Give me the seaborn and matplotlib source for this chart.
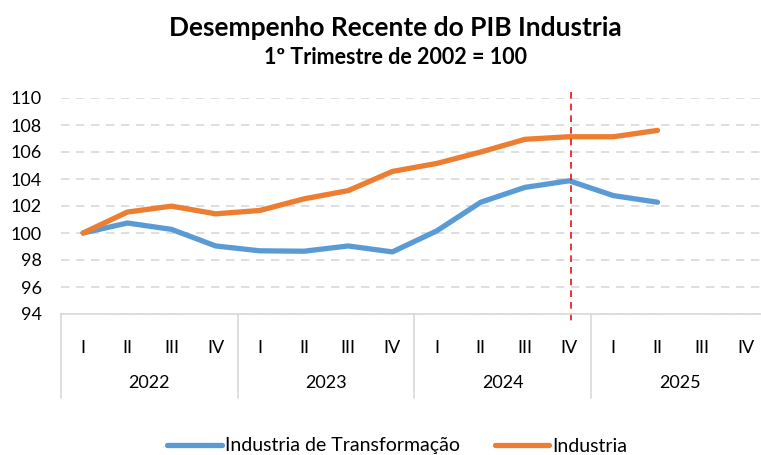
import numpy as np
import pandas as pd
import matplotlib
matplotlib.use("Agg")
import matplotlib.pyplot as plt
import matplotlib.transforms as mtransforms
from matplotlib.lines import Line2D
import seaborn as sns

# ---- data ----
quarters = ["I", "II", "III", "IV"] * 4
years = ["2022", "2023", "2024", "2025"]
transformacao = [100.0, 100.74, 100.27, 99.04, 98.68, 98.65, 99.04, 98.6,
                 100.15, 102.28, 103.38, 103.87, 102.77, 102.28, np.nan, np.nan]
industria = [100.0, 101.55, 101.99, 101.42, 101.67, 102.53, 103.14, 104.56,
             105.15, 106.0, 106.94, 107.13, 107.13, 107.6, np.nan, np.nan]
series_names = ["Industria de Transformação", "Industria"]
yticks = [94, 96, 98, 100, 102, 104, 106, 108, 110]
title = "Desempenho Recente do PIB Industria"
subtitle = "1º Trimestre de 2002 = 100"
marker_index = 11  # 2024 IV

sns.set_theme(style="white")
plt.rcParams['font.family'] = ['Lato', 'DejaVu Sans']
plt.rcParams['text.color'] = 'black'
plt.rcParams['xtick.color'] = 'black'
plt.rcParams['ytick.color'] = 'black'

n = len(quarters)
df = pd.DataFrame({
    "idx": list(range(n)) * 2,
    "valor": transformacao + industria,
    "serie": [series_names[0]] * n + [series_names[1]] * n,
})

fig = plt.figure(figsize=(7.61, 4.55), dpi=100)
W, H = 761, 455
left, right, top, bottom = 61, 768, 98, 314
ax = fig.add_axes([left / W, 1 - bottom / H, (right - left) / W, (bottom - top) / H])

palette = {series_names[0]: "#5B9BD5", series_names[1]: "#ED7D31"}
sns.lineplot(data=df, x="idx", y="valor", hue="serie", palette=palette,
             linewidth=3.8, ax=ax, legend=False)
for l in ax.get_lines():
    l.set_solid_capstyle("round")
    l.set_solid_joinstyle("round")

FS = 13
ax.set_xlim(-0.5, n - 0.5)
ax.set_ylim(94, 110)
ax.set_yticks(yticks)
ax.set_yticklabels([str(v) for v in yticks], fontsize=FS, color="black")
ax.tick_params(axis="y", length=0, pad=14)
ax.yaxis.grid(True, color="#d9d9d9", linestyle=(0, (5, 4)), linewidth=1.2)
ax.set_axisbelow(True)
for s in ["left", "right", "top"]:
    ax.spines[s].set_visible(False)
ax.spines["bottom"].set_color("#d9d9d9")
ax.spines["bottom"].set_linewidth(1.2)
ax.set_xlabel("")
ax.set_ylabel("")

# category axis: quarters
ax.set_xticks(range(n))
ax.set_xticklabels(quarters, fontsize=FS, color="black")
ax.tick_params(axis="x", length=0, pad=19)

trans = mtransforms.blended_transform_factory(ax.transData, ax.transAxes)
px = 1.0 / (bottom - top)
for k in range(len(years) + 1):
    xk = -0.5 + 4 * k
    ax.plot([xk, xk], [0, -84 * px], transform=trans, color="#d9d9d9",
            linewidth=1.2, clip_on=False)
for k, yr in enumerate(years):
    ax.text(1.5 + 4 * k, -69 * px, yr, transform=trans, ha="center", va="center",
            fontsize=FS, color="black")

# red dashed marker
ax.plot([marker_index + 0.05, marker_index + 0.05], [1 + 6 * px, -10 * px], transform=trans,
        color="#ee1111", linestyle=(0, (4, 3)), linewidth=1.2, clip_on=False)

# titles
fig.text(395 / W, 1 - 28 / H, title, ha="center", va="center", fontsize=19,
         fontweight="bold", color="black")
fig.text(395 / W, 1 - 58 / H, subtitle, ha="center", va="center", fontsize=15.5,
         fontweight="bold", color="black")

# legend
handles = [Line2D([0], [0], color=palette[s], linewidth=3.8, solid_capstyle="round")
           for s in series_names]
fig.legend(handles, series_names, loc="center", bbox_to_anchor=(397 / W, 1 - 446 / H),
           ncol=2, frameon=False, fontsize=14, handlelength=2.8, handletextpad=0.15,
           columnspacing=1.8, labelcolor="black")

fig.savefig("out.png", dpi=100)
